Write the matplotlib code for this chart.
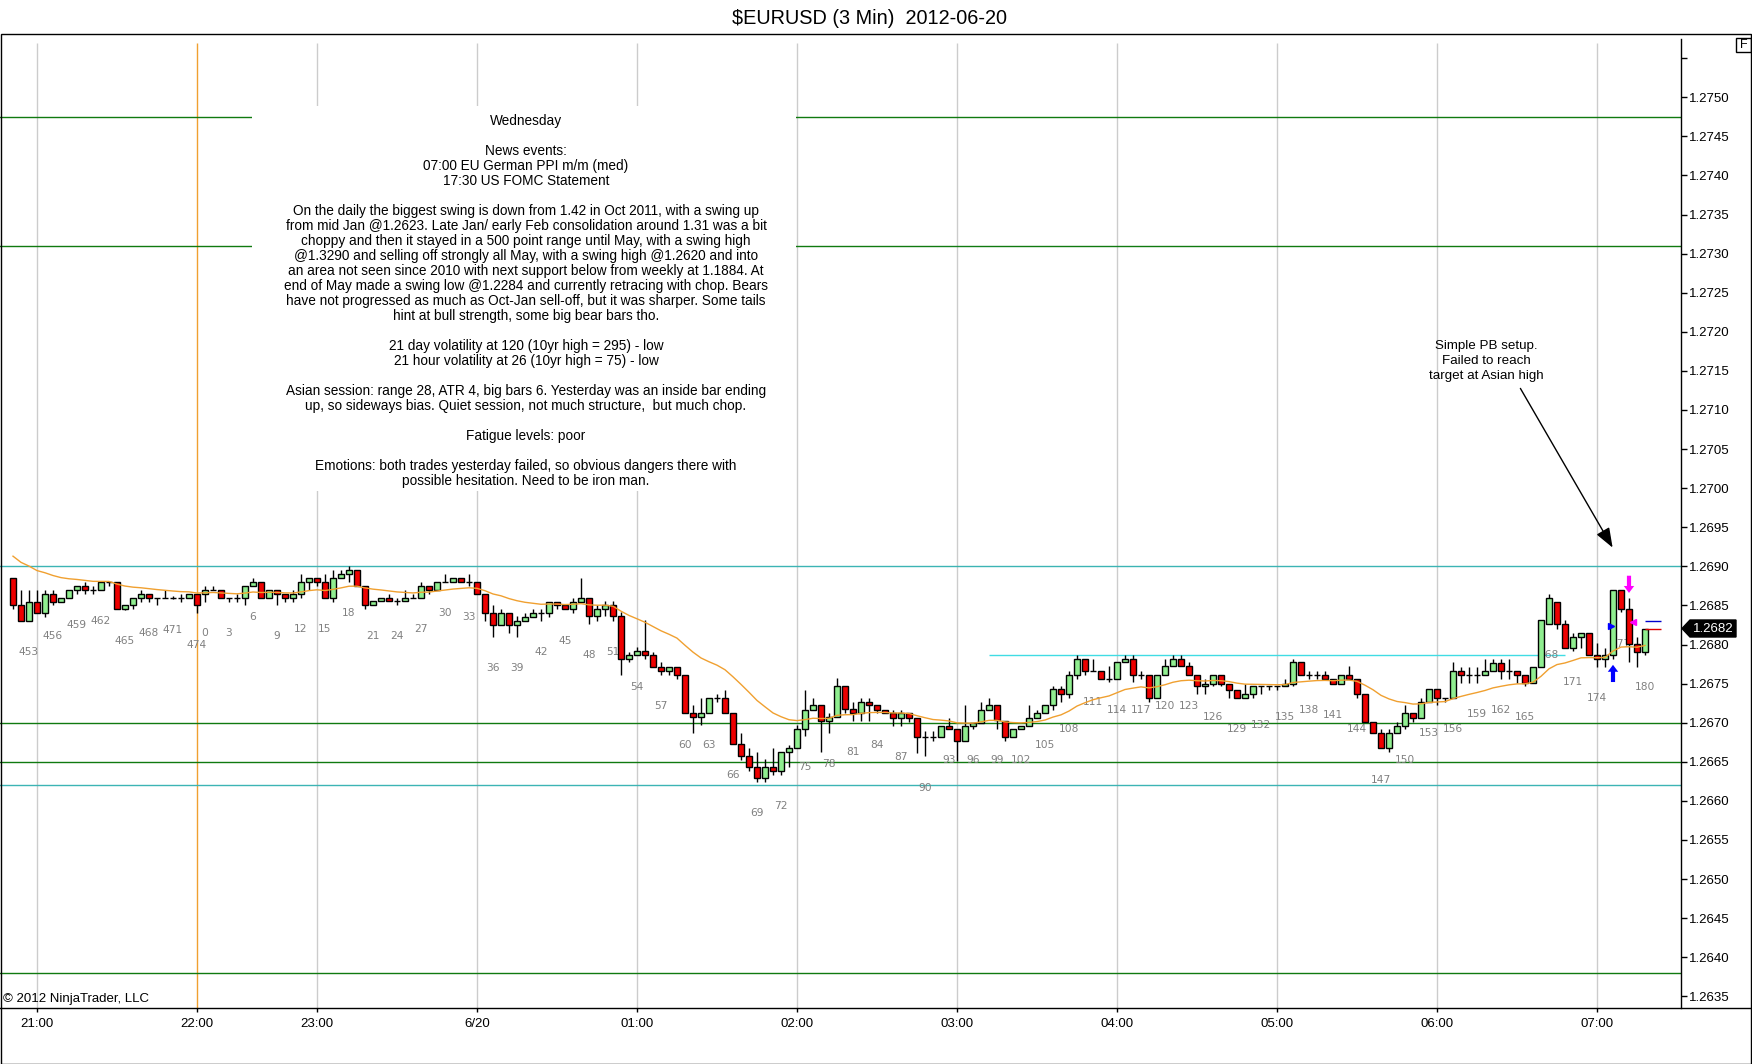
import numpy as np
import matplotlib.pyplot as plt
from matplotlib.patches import Rectangle, Polygon, FancyArrowPatch
from matplotlib.lines import Line2D

plt.rcParams['font.family'] = ['Liberation Sans', 'DejaVu Sans']

W, H = 1752, 1064

# bar numbers printed under every third bar (session count wraps after 474)
bar_no = list(range(451, 475)) + list(range(0, 181))

# OHLC in pips above 1.2600
o = [88.5, 85.1, 83.0, 85.5, 84.0, 86.5, 85.5, 86.0, 87.0, 87.5,
     87.0, 87.0, 88.0, 88.0, 84.5, 85.1, 86.0, 86.5, 86.0, 86.0,
     86.0, 86.0, 86.0, 86.5, 86.5, 87.0, 87.0, 86.0, 86.0, 86.0,
     87.5, 88.0, 86.0, 87.0, 86.5, 86.0, 86.5, 88.0, 88.5, 88.0,
     86.0, 88.5, 89.0, 89.5, 87.5, 85.1, 85.6, 86.0, 85.6, 85.6,
     86.0, 86.0, 87.5, 87.0, 88.0, 88.0, 88.5, 88.0, 88.0, 86.5,
     84.0, 82.5, 84.0, 82.5, 83.0, 83.5, 84.0, 84.0, 85.5, 85.1,
     84.5, 85.5, 86.0, 83.6, 84.6, 85.1, 83.6, 78.2, 78.6, 79.2,
     78.6, 77.1, 76.6, 77.1, 76.1, 71.2, 70.7, 71.2, 73.2, 73.2,
     71.2, 67.3, 65.7, 64.3, 62.9, 64.3, 63.8, 66.2, 66.7, 69.2,
     71.6, 72.2, 70.2, 70.7, 74.7, 71.7, 71.2, 72.7, 72.2, 71.6,
     71.2, 70.6, 71.2, 70.6, 68.2, 68.2, 68.2, 69.6, 69.2, 67.7,
     69.6, 69.9, 71.6, 72.2, 70.2, 68.2, 69.2, 69.6, 70.6, 71.2,
     72.2, 74.3, 73.7, 76.1, 78.2, 76.6, 76.6, 75.6, 75.6, 77.7,
     78.2, 76.1, 76.1, 73.2, 76.1, 77.2, 78.2, 77.2, 76.1, 74.7,
     75.0, 76.1, 75.0, 74.2, 73.2, 73.7, 74.7, 74.7, 74.7, 74.7,
     75.0, 77.7, 76.1, 76.1, 76.1, 75.6, 75.0, 76.1, 75.6, 73.7,
     70.1, 68.7, 66.7, 68.7, 69.6, 71.2, 70.6, 72.7, 74.3, 73.2,
     73.2, 76.6, 76.1, 76.1, 76.1, 76.6, 77.6, 76.6, 76.6, 76.1,
     75.1, 77.1, 82.6, 85.5, 82.6, 79.6, 81.0, 81.5, 78.6, 78.2,
     78.6, 87.0, 84.6, 80.1, 79.1]

h = [88.5, 87.0, 87.0, 87.0, 87.0, 87.0, 86.0, 87.0, 87.5, 88.0,
     87.5, 88.0, 88.0, 88.0, 85.1, 86.0, 87.0, 86.5, 86.0, 87.0,
     86.2, 86.5, 86.5, 86.5, 87.5, 87.5, 87.0, 86.0, 86.5, 87.5,
     88.5, 88.0, 87.0, 87.0, 86.5, 87.0, 89.0, 88.5, 88.5, 89.0,
     89.5, 89.5, 90.1, 89.5, 87.5, 85.6, 86.0, 86.5, 86.0, 87.0,
     86.5, 88.0, 87.5, 88.0, 89.0, 88.5, 88.5, 89.0, 88.0, 86.5,
     85.1, 84.5, 84.0, 83.6, 84.0, 84.5, 84.5, 85.5, 85.5, 85.1,
     86.0, 88.5, 86.0, 85.1, 85.6, 85.6, 84.1, 79.1, 79.7, 83.1,
     79.1, 77.7, 77.1, 77.1, 76.1, 72.2, 73.2, 73.2, 73.7, 74.2,
     71.2, 68.7, 66.7, 66.2, 65.3, 66.8, 66.2, 67.2, 69.7, 74.2,
     73.2, 72.2, 71.2, 75.7, 74.7, 72.7, 73.2, 73.2, 72.2, 71.6,
     71.6, 71.6, 71.2, 70.6, 68.9, 68.9, 69.6, 70.6, 69.2, 72.2,
     69.9, 72.7, 73.2, 72.2, 70.2, 69.2, 69.6, 72.2, 71.6, 72.2,
     74.7, 74.7, 76.6, 78.6, 78.2, 78.2, 76.6, 77.2, 77.7, 78.6,
     78.6, 76.6, 76.1, 76.1, 78.2, 78.7, 78.7, 77.7, 76.1, 75.6,
     76.1, 76.1, 75.0, 74.2, 75.0, 74.7, 74.7, 74.7, 74.7, 75.6,
     78.2, 77.7, 76.6, 76.6, 76.6, 75.6, 76.1, 77.2, 75.6, 73.7,
     70.1, 69.2, 69.2, 70.1, 72.2, 71.2, 73.2, 74.3, 74.3, 73.2,
     77.7, 77.1, 77.1, 77.1, 78.1, 78.1, 78.1, 78.1, 76.6, 76.1,
     77.1, 83.1, 86.5, 85.5, 83.1, 81.5, 81.5, 81.5, 80.2, 79.6,
     87.0, 87.0, 86.0, 81.0, 82.0]

l = [84.5, 83.0, 83.0, 84.0, 83.5, 85.1, 85.5, 86.0, 86.5, 86.5,
     86.5, 87.0, 87.5, 84.5, 84.4, 84.5, 85.5, 85.5, 85.1, 86.0,
     85.8, 85.5, 86.0, 84.0, 85.5, 87.0, 86.0, 85.5, 85.5, 85.1,
     87.5, 86.0, 86.0, 85.1, 85.5, 85.5, 86.0, 87.0, 87.5, 86.0,
     85.5, 88.5, 88.0, 87.5, 84.5, 85.1, 85.6, 85.6, 85.1, 85.6,
     86.0, 86.0, 86.5, 87.0, 88.0, 88.0, 88.0, 87.5, 86.5, 83.0,
     81.0, 82.5, 81.5, 81.0, 83.0, 83.5, 83.0, 83.5, 84.5, 84.5,
     84.0, 85.5, 82.6, 83.0, 83.6, 83.0, 76.1, 77.7, 78.6, 78.2,
     77.1, 76.1, 76.1, 75.6, 71.2, 68.7, 69.7, 71.2, 72.7, 71.2,
     67.3, 65.2, 63.8, 62.4, 62.4, 63.3, 63.3, 64.3, 66.7, 68.3,
     71.6, 66.2, 68.7, 70.7, 71.2, 70.2, 70.2, 70.2, 71.2, 71.2,
     69.6, 69.6, 70.1, 66.1, 65.7, 67.7, 68.2, 69.2, 65.1, 67.7,
     69.2, 69.9, 71.6, 69.2, 67.7, 68.2, 69.2, 69.6, 70.6, 71.2,
     71.6, 72.7, 73.2, 75.6, 76.1, 76.6, 75.6, 75.2, 75.6, 77.7,
     75.2, 75.6, 72.7, 73.2, 76.1, 77.2, 77.2, 76.1, 73.7, 73.7,
     74.7, 74.7, 73.2, 73.2, 73.2, 73.2, 73.7, 74.2, 74.2, 74.7,
     74.7, 76.1, 75.6, 75.6, 75.6, 75.0, 75.0, 75.6, 73.2, 70.1,
     68.7, 66.7, 66.2, 68.7, 69.2, 70.1, 70.6, 72.7, 72.2, 72.7,
     73.2, 75.1, 75.1, 75.1, 76.1, 76.6, 75.6, 75.6, 75.1, 74.7,
     75.1, 77.1, 82.6, 82.0, 79.6, 79.2, 79.6, 78.6, 77.1, 77.1,
     78.2, 84.1, 77.7, 77.1, 78.6]

c = [85.1, 83.0, 85.5, 84.0, 86.5, 85.5, 86.0, 87.0, 87.5, 87.0,
     87.0, 88.0, 88.0, 84.5, 85.1, 86.0, 86.5, 86.0, 86.0, 86.0,
     86.0, 86.0, 86.5, 85.1, 87.0, 87.0, 86.0, 86.0, 86.0, 87.5,
     88.0, 86.0, 87.0, 86.5, 86.0, 86.5, 88.0, 88.5, 88.0, 86.0,
     88.5, 89.0, 89.5, 87.5, 85.1, 85.6, 86.0, 85.6, 85.6, 86.0,
     86.0, 87.5, 87.0, 88.0, 88.0, 88.5, 88.0, 88.0, 86.5, 84.0,
     82.5, 84.0, 82.5, 83.0, 83.5, 84.0, 84.0, 85.5, 85.1, 84.5,
     85.5, 86.0, 83.6, 84.6, 85.1, 83.6, 78.2, 78.6, 79.2, 78.6,
     77.1, 76.6, 77.1, 76.1, 71.2, 70.7, 71.2, 73.2, 73.2, 71.2,
     67.3, 65.7, 64.3, 62.9, 64.3, 63.8, 66.2, 66.7, 69.2, 71.6,
     72.2, 70.2, 70.7, 74.7, 71.7, 71.2, 72.7, 72.2, 71.6, 71.2,
     70.6, 71.2, 70.6, 68.2, 68.2, 68.2, 69.6, 69.2, 67.7, 69.6,
     69.9, 71.6, 72.2, 70.3, 68.2, 69.2, 69.6, 70.6, 71.2, 72.2,
     74.3, 73.7, 76.1, 78.2, 76.6, 76.6, 75.6, 75.6, 77.7, 78.2,
     76.1, 76.1, 73.2, 76.1, 77.2, 78.2, 77.2, 76.1, 74.7, 75.0,
     76.1, 75.0, 74.2, 73.2, 73.7, 74.7, 74.7, 74.7, 74.7, 75.0,
     77.7, 76.1, 76.1, 76.1, 75.6, 75.0, 76.1, 75.6, 73.7, 70.1,
     68.7, 66.7, 68.7, 69.6, 71.2, 70.6, 72.7, 74.3, 73.2, 73.2,
     76.6, 76.1, 76.1, 76.1, 76.6, 77.6, 76.6, 76.6, 76.1, 75.1,
     77.1, 83.1, 86.0, 82.6, 79.6, 81.0, 81.5, 78.6, 78.2, 78.6,
     87.0, 84.5, 80.1, 79.1, 82.0]

ma_start = 91.3        # moving average value at the first visible bar
ma_len = 20

hour_pos = [3, 23, 38, 58, 78, 98, 118, 138, 158, 178, 198]
hour_lbl = ['21:00', '22:00', '23:00', '6/20', '01:00', '02:00',
            '03:00', '04:00', '05:00', '06:00', '07:00']

# horizontal levels drawn on the chart
cyan_levels = [1.2690, 1.2662]
green_levels = [1.27475, 1.2731, 1.2670, 1.2665, 1.2638]
range_level = 1.26786

notes = ["Wednesday", "",
         "News events:",
         "07:00 EU German PPI m/m (med)",
         "17:30 US FOMC Statement", "",
         "On the daily the biggest swing is down from 1.42 in Oct 2011, with a swing up",
         "from mid Jan @1.2623. Late Jan/ early Feb consolidation around 1.31 was a bit",
         "choppy and then it stayed in a 500 point range until May, with a swing high",
         "@1.3290 and selling off strongly all May, with a swing high @1.2620 and into",
         "an area not seen since 2010 with next support below from weekly at 1.1884. At",
         "end of May made a swing low @1.2284 and currently retracing with chop. Bears",
         "have not progressed as much as Oct-Jan sell-off, but it was sharper. Some tails",
         "hint at bull strength, some big bear bars tho.", "",
         "21 day volatility at 120 (10yr high = 295) - low",
         "21 hour volatility at 26 (10yr high = 75) - low", "",
         "Asian session: range 28, ATR 4, big bars 6. Yesterday was an inside bar ending",
         "up, so sideways bias. Quiet session, not much structure,  but much chop.", "",
         "Fatigue levels: poor", "",
         "Emotions: both trades yesterday failed, so obvious dangers there with",
         "possible hesitation. Need to be iron man."]

callout = ["Simple PB setup.", "Failed to reach", "target at Asian high"]

# ---------------------------------------------------------------

def px(x, y):
    return x / W, 1 - y / H

po = 1.26 + np.array(o) / 1e4
ph = 1.26 + np.array(h) / 1e4
pl = 1.26 + np.array(l) / 1e4
pc = 1.26 + np.array(c) / 1e4
x = np.arange(len(o))

fig = plt.figure(figsize=(W / 100, H / 100), dpi=100)
ax = fig.add_axes([0, 1 - 1008 / H, 1681 / W, (1008 - 34) / H])
ax.set_xlim(-13 / 8, (1681 - 13) / 8)
ax.set_ylim(1.26335, 1.27581)

for s in ['top', 'left', 'bottom']:
    ax.spines[s].set_visible(False)
ax.spines['right'].set_bounds(1.26335, 1.27575)
ax.spines['right'].set_linewidth(1)

# grid / level lines
for g in hour_pos:
    col = '#f0a030' if g == 23 else '#cccccc'
    ax.vlines(g, 1.26335, 1.2757, color=col, lw=1, zorder=1)
for y in cyan_levels:
    ax.axhline(y, color='#3cb4b4', lw=1, zorder=1)
for y in green_levels:
    ax.axhline(y, color='#107a10', lw=1, zorder=1)
ax.hlines(range_level, 122, 194, color='#40dce4', lw=1, zorder=1)

# bar numbers
for g in x:
    if bar_no[g] % 3 == 0:
        ax.text(g, pl[g] - 0.0004, str(bar_no[g]), ha='center', va='center',
                fontsize=7.7, color='#808080', family='DejaVu Sans', zorder=2)

# candles
ax.vlines(x, pl, ph, color='black', lw=1, zorder=3)
doji = np.abs(po - pc) < 0.000005
up = (pc > po) & ~doji
dn = (pc < po) & ~doji
ax.bar(x[up], (pc - po)[up], bottom=po[up], width=0.74, color='#90ee90',
       edgecolor='black', lw=1, zorder=4)
ax.bar(x[dn], (po - pc)[dn], bottom=pc[dn], width=0.74, color='#ee0000',
       edgecolor='black', lw=1, zorder=4)
ax.hlines(pc[doji], x[doji] - 0.4, x[doji] + 0.4, color='black', lw=1, zorder=4)

# moving average
ma = [1.26 + ma_start / 1e4]
k = 2 / (ma_len + 1)
for v in pc[1:]:
    ma.append(ma[-1] + k * (v - ma[-1]))
ax.plot(x, ma, color='#f0a030', lw=1, zorder=5)

# trade markers at the right end
arr = 'simple,head_length=0.5,head_width=0.75,tail_width=0.3'
ax.annotate('', xy=(202, 1.26866), xytext=(202, 1.26888),
            arrowprops=dict(arrowstyle=arr, color='#ff00ff', lw=0,
                            mutation_scale=10, shrinkA=0, shrinkB=0), zorder=6)
ax.annotate('', xy=(200, 1.26774), xytext=(200, 1.26752),
            arrowprops=dict(arrowstyle=arr, color='#0000ff', lw=0,
                            mutation_scale=10, shrinkA=0, shrinkB=0), zorder=6)
ax.plot(199.7, 1.26824, marker='>', color='#0000ff', ms=5, zorder=6)
ax.plot(202.5, 1.26829, marker='<', color='#ff00ff', ms=5, zorder=6)
ax.hlines(1.26830, 204, 206, color='#0000cc', lw=1, zorder=6)
ax.hlines(1.26820, 204, 206, color='#dd0000', lw=1, zorder=6)

# axes ticks
yt = np.arange(1.2635, 1.27551, 0.0005)
ax.set_yticks(yt)
ax.set_yticklabels(['%.4f' % v if v < 1.2752 else '' for v in yt])
ax.yaxis.tick_right()
ax.tick_params(axis='y', direction='out', length=4.5, width=1, pad=1,
               labelsize=9.5, colors='black')
ax.set_xticks(hour_pos)
ax.set_xticklabels(hour_lbl)
ax.tick_params(axis='x', direction='out', length=3, width=1, pad=4,
               labelsize=9.5)

# notes box
ax.add_patch(Rectangle(px(252, 491), (796 - 252) / W, (491 - 106) / H,
                       transform=fig.transFigure, facecolor='white',
                       edgecolor='none', zorder=7))
for i, line in enumerate(notes):
    fig.text(*px(526, 121 + i * 15.0), line, ha='center', va='center',
             fontsize=9.8, color='black', zorder=8)

for i, line in enumerate(callout):
    fig.text(*px(1486, 346.5 + i * 15.0), line, ha='center', va='center',
             fontsize=9.6, color='black')
fig.add_artist(FancyArrowPatch(px(1519, 386), px(1614, 550),
                               transform=fig.transFigure,
                               arrowstyle='-|>,head_length=1.2,head_width=0.45',
                               mutation_scale=10, color='black', lw=1))

# frame, title, misc
fig.add_artist(Rectangle(px(0.5, 1063.5), 1750.5 / W, (1063.5 - 34) / H,
                         transform=fig.transFigure, fill=False,
                         edgecolor='black', lw=1))
fig.add_artist(Line2D([0, 1751 / W], [1 - 1008 / H] * 2,
                      transform=fig.transFigure, color='black', lw=1))
fig.text(*px(870, 18), r'\$EURUSD (3 Min)  2012-06-20', ha='center',
         va='center', fontsize=14.3)
fig.text(*px(3, 999), '\u00a9 2012 NinjaTrader, LLC', ha='left',
         va='center', fontsize=9.5)

fig.add_artist(Rectangle(px(1736, 52), 15 / W, 14 / H,
                         transform=fig.transFigure, fill=False,
                         edgecolor='black', lw=1))
fig.text(*px(1743.5, 45), 'F', ha='center', va='center', fontsize=9)

# last price tag
fig.add_artist(Polygon([px(1682, 628.5), px(1690, 620), px(1736, 620),
                        px(1736, 637), px(1690, 637)],
                       closed=True, transform=fig.transFigure,
                       facecolor='black', edgecolor='black'))
fig.text(*px(1713, 628.5), '1.2682', ha='center', va='center',
         fontsize=9.5, color='white')

fig.savefig('out.png', dpi=100)
